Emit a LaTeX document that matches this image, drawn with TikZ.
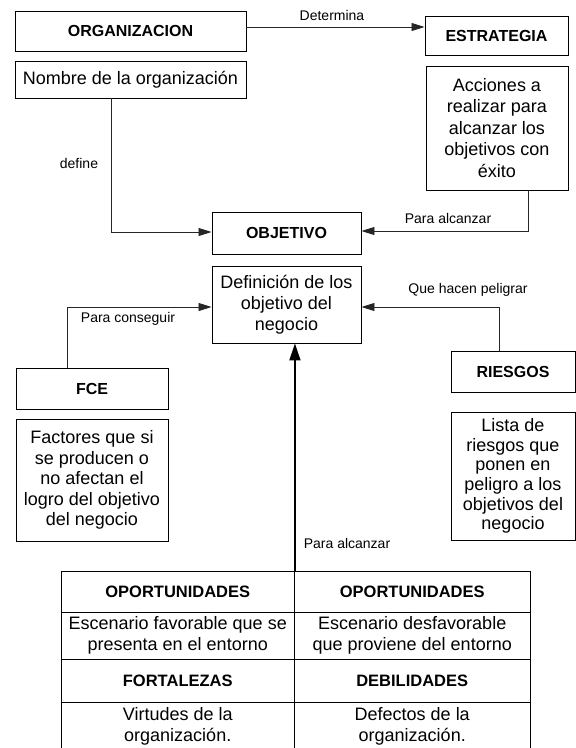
\documentclass[tikz,border=0pt]{standalone}
\usepackage{fontspec}
\setmainfont{Liberation Sans}
\usetikzlibrary{arrows.meta,calc}
\begin{document}
\begin{tikzpicture}[x=1pt,y=-1pt,
  box/.style={draw=black,line width=0.9pt,inner sep=0pt,align=center,font=\fontsize{18}{21}\selectfont},
  title/.style={box,font=\fontsize{16}{19}\selectfont\bfseries},
  cell/.style={box},
  celltitle/.style={box,font=\fontsize{16.5}{19}\selectfont\bfseries},
  lbl/.style={inner sep=0pt,font=\fontsize{14}{16}\selectfont},
  conn/.style={line width=0.8pt,draw=black!85,-{Triangle[length=13pt,width=8pt]}},
  mainarr/.style={line width=1.6pt,-{Triangle[length=17pt,width=11pt]}}
]
\clip (0,0) rectangle (576,748);
\fill[white] (0,0) rectangle (576,748);

% boxes
\node[title, minimum width=231pt, minimum height=40pt] (org) at (130.5,31) {ORGANIZACION};
\node[box, minimum width=231pt, minimum height=37pt] (nom) at (130.5,79.5) {Nombre de la organización};
\node[title, minimum width=143pt, minimum height=39pt] (estr) at (496.5,35.5) {ESTRATEGIA};
\node[box, minimum width=142pt, minimum height=124pt, font=\fontsize{18}{21.5}\selectfont] (acc) at (497,128) {Acciones a\\realizar para\\alcanzar los\\objetivos con\\éxito};
\node[title, minimum width=149pt, minimum height=42pt] (obj) at (286.5,233) {OBJETIVO};
\node[box, minimum width=149pt, minimum height=77pt] (def) at (286.5,304.5) {Definición de los\\objetivo del\\negocio};
\node[title, minimum width=152pt, minimum height=41pt] (fce) at (92,388.5) {FCE};
\node[box, minimum width=152pt, minimum height=122pt, font=\fontsize{18}{20.5}\selectfont] (fac) at (92,480) {Factores que si\\se producen o\\no afectan el\\logro del objetivo\\del negocio};
\node[title, minimum width=124pt, minimum height=41pt] (ries) at (513,371.5) {RIESGOS};
\node[box, minimum width=124pt, minimum height=128pt, font=\fontsize{18}{19.7}\selectfont] (lis) at (513,476) {Lista de\\riesgos que\\ponen en\\peligro a los\\objetivos del\\negocio};

% table
\node[celltitle, minimum width=233.5pt, minimum height=41pt] (c11) at (177.75,591.5) {OPORTUNIDADES};
\node[celltitle, minimum width=235.5pt, minimum height=41pt] (c12) at (412.25,591.5) {OPORTUNIDADES};
\node[cell, minimum width=233.5pt, minimum height=47pt] (c21) at (177.75,635.5) {Escenario favorable que se\\presenta en el entorno};
\node[cell, minimum width=235.5pt, minimum height=47pt] (c22) at (412.25,635.5) {Escenario desfavorable\\que proviene del entorno};
\node[celltitle, minimum width=233.5pt, minimum height=43pt] (c31) at (177.75,680.5) {FORTALEZAS};
\node[celltitle, minimum width=235.5pt, minimum height=43pt] (c32) at (412.25,680.5) {DEBILIDADES};
\node[cell, minimum width=233.5pt, minimum height=49pt] (c41) at (177.75,726.5) {Virtudes de la\\organización.};
\node[cell, minimum width=235.5pt, minimum height=49pt] (c42) at (412.25,726.5) {Defectos de la\\organización.};

% connectors
\coordinate (d1) at ([yshift=4pt]org.east);
\draw[conn] (d1) -- (d1 -| estr.west);
\draw[conn] ([xshift=-19.5pt]nom.south) |- ([yshift=1pt]obj.west);
\draw[conn] ([xshift=31pt]acc.south) |- ([yshift=2pt]obj.east);
\draw[conn] ([xshift=-25pt]fce.north) |- ([yshift=-2.5pt]def.west);
\draw[conn] ([xshift=-14pt]ries.north) |- ([yshift=-2.5pt]def.east);
\draw[mainarr] (c11.north east) -- (c11.north east |- def.south);

% labels
\node[lbl] (l1) at (332,15) {Determina};
\node[lbl] (l2) at (79,163) {define};
\node[lbl] (l3) at (448,218) {Para alcanzar};
\node[lbl] (l4) at (128,319) {Para conseguir};
\node[lbl] (l5) at (468,290) {Que hacen peligrar};
\node[lbl] (l6) at (347,543) {Para alcanzar};
\end{tikzpicture}
\end{document}
